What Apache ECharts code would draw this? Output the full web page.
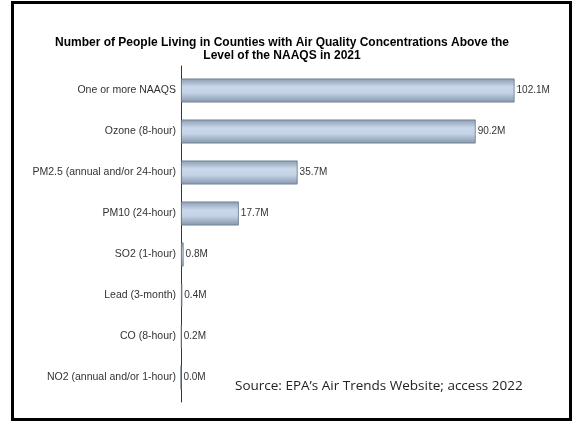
<!DOCTYPE html>
<html>
<head>
<meta charset="utf-8">
<script src="https://cdn.jsdelivr.net/npm/echarts@6/dist/echarts.min.js"></script>
<style>html,body{margin:0;padding:0;background:#fff;}#c{width:573px;height:422px;}</style>
</head>
<body>
<div id="c"></div>
<script>
const categories = ["One or more NAAQS","Ozone (8-hour)","PM2.5 (annual and/or 24-hour)","PM10 (24-hour)","SO2 (1-hour)","Lead (3-month)","CO (8-hour)","NO2 (annual and/or 1-hour)"];
const values = [102.1, 90.2, 35.7, 17.7, 0.8, 0.4, 0.2, 0.0];
const titleText = "Number of People Living in Counties with Air Quality Concentrations Above the\nLevel of the NAAQS in 2021";
const sourceText = "Source: EPA\u2019s Air Trends Website; access 2022";

const chart = echarts.init(document.getElementById('c'), null, {renderer: 'canvas'});
const barColor = new echarts.graphic.LinearGradient(0, 0, 0, 1, [
  {offset: 0, color: '#8a9bb1'},
  {offset: 0.35, color: '#c9d8eb'},
  {offset: 0.6, color: '#c4d3e6'},
  {offset: 1, color: '#8596ac'}
]);
chart.setOption({
  animation: false,
  title: {
    text: titleText,
    left: 277, textAlign: 'center', top: 31,
    textStyle: {fontFamily: 'Liberation Sans', fontSize: 12, fontWeight: 'bold', color: '#000', lineHeight: 13}
  },
  grid: [
    {left: 181, right: 573 - 181 - 3.30 * 120, top: 70, height: 328, containLabel: false},
    {left: 181, width: 10, top: 66, height: 336}
  ],
  xAxis: [
    {type: 'value', gridIndex: 0, min: 0, max: 120, show: false},
    {type: 'value', gridIndex: 1, show: false}
  ],
  yAxis: [
    {type: 'category', gridIndex: 0, data: categories, inverse: true,
     axisLine: {show: false}, axisTick: {show: false},
     axisLabel: {fontFamily: 'Liberation Sans', fontSize: 10.5, color: '#333', margin: 5}},
    {type: 'value', gridIndex: 1, axisLine: {show: true, lineStyle: {color: '#333', width: 1}},
     axisTick: {show: false}, axisLabel: {show: false}, splitLine: {show: false}}
  ],
  series: [{
    type: 'bar', xAxisIndex: 0, yAxisIndex: 0, data: values, barWidth: 24,
    itemStyle: {color: barColor, borderColor: '#66768a', borderWidth: 0.8},
    label: {show: true, position: 'right', distance: 2, formatter: p => p.value.toFixed(1) + 'M',
            fontFamily: 'Liberation Sans', fontSize: 10, color: '#333'}
  }],
  graphic: [
    {type: 'rect', shape: {x: 12.5, y: 2.5, width: 558, height: 417}, style: {fill: 'none', stroke: '#000', lineWidth: 3}, z: 100},
    {type: 'text', left: 235, top: 379, style: {text: sourceText, font: '13.5px "Open Sans"', fill: '#222'}}
  ]
});
</script>
</body>
</html>
